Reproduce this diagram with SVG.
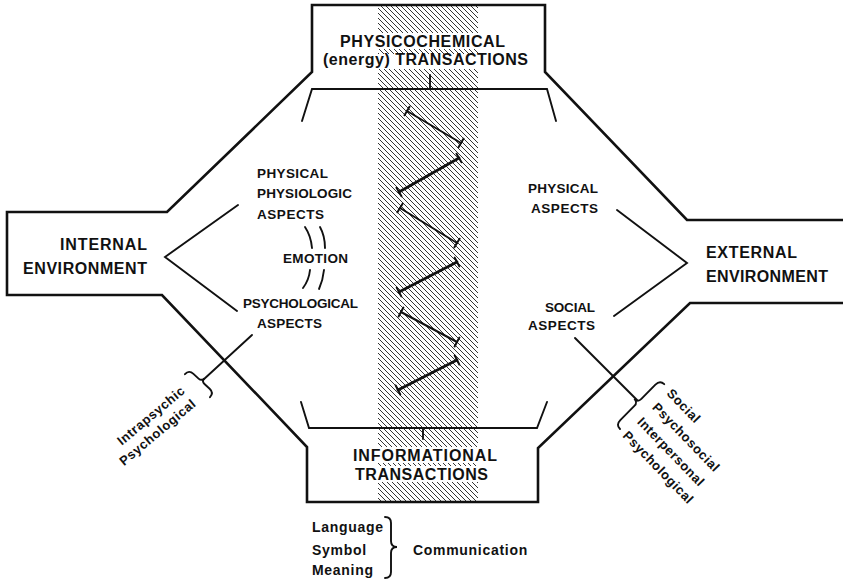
<svg xmlns="http://www.w3.org/2000/svg" width="843" height="582" viewBox="0 0 843 582">
  <defs>
    <!-- diagonal hatch for the central transaction band -->
    <pattern id="hatch" width="5" height="5" patternUnits="userSpaceOnUse">
      <path d="M-1,-1 L6,6 M-1,4 L1,6 M4,-1 L6,1" stroke="#111" stroke-width="0.85"/>
    </pattern>
    <style>
      .outline { fill: none; stroke: #111; stroke-width: 2.6; stroke-linejoin: miter; }
      .ln { fill: none; stroke: #111; stroke-width: 1.9; stroke-linecap: round; }
      .thin { fill: none; stroke: #111; stroke-width: 2; stroke-linecap: round; }
      .thick { fill: none; stroke: #111; stroke-width: 2.8; stroke-linecap: round; }
      .cap { stroke: #111; stroke-width: 2; stroke-linecap: round; }
      .lbl { font-family: "Liberation Sans", Arial, sans-serif; font-weight: bold; fill: #111; font-size: 13.5px; }
      .big { font-size: 16px; }
      .small { font-size: 14px; letter-spacing: 0.7px; }
      .rot { font-size: 13px; letter-spacing: 0.6px; }
    </style>
  </defs>

  <rect width="843" height="582" fill="#fff"/>

  <!-- hatched band with clear strips behind the transaction captions -->
  <rect x="378" y="5" width="100" height="497" fill="url(#hatch)"/>
  <rect x="378" y="33" width="100" height="16" fill="#fff"/>
  <rect x="378" y="54" width="100" height="15" fill="#fff"/>
  <rect x="378" y="447" width="100" height="16" fill="#fff"/>
  <rect x="378" y="466" width="100" height="16" fill="#fff"/>

  <!-- outer frame: top box, side boxes, bottom box -->
  <g id="frame">
    <path class="outline" d="M843,220 L687,220 L545,72 L545,5 L312,5 L312,72 L167,212 L7,212 L7,295 L162,295 L307,447 L307,502 L538,502 L538,448 L690,303 L843,303"/>
  </g>

  <g id="connectors">
    <!-- inner brackets under / above the transaction boxes -->
    <path class="ln" d="M302,121 L312,89 L547,89 L556,121"/>
    <path class="ln" d="M430,75 L430,89"/>
    <path class="ln" d="M301,402 L309,428 L537,428 L547,402"/>
    <path class="ln" d="M423,428 L423,439"/>
    <!-- internal environment fork -->
    <path class="ln" d="M238,205 L165,257 L237,311"/>
    <!-- external environment fork -->
    <path class="ln" d="M617,210 L687,263 L614,316"/>
    <!-- emotion links -->
    <path class="ln" d="M305,227 Q311,236 312,248"/>
    <path class="ln" d="M320,227 Q325,236 325,248"/>
    <path class="ln" d="M310,270 Q309,280 303,288"/>
    <path class="ln" d="M324,270 Q323,280 319,289"/>
    <!-- leaders to the bracketed lists -->
    <path class="ln" d="M252,335 L203,380"/>
    <path class="ln" d="M575,338 L637,400"/>
    <!-- braces -->
    <path class="ln" transform="translate(199.5,383.5) rotate(-47.4)" d="M-3,-17 Q3,-17 3,-11 L3,-4 Q3,0 7,0 Q3,0 3,4 L3,11 Q3,17 -3,17"/>
    <path class="ln" transform="translate(640,404.5) rotate(-135.4)" d="M-3,-31.5 Q3,-31.5 3,-25 L3,-5 Q3,0 8,0 Q3,0 3,5 L3,25 Q3,31.5 -3,31.5"/>
    <path class="ln" d="M385,517 Q391,517 391,523 L391,541 Q391,547 397,547 Q391,547 391,553 L391,572 Q391,578 385,578"/>
  </g>

  <!-- zigzag of capped segments inside the band -->
  <g id="zigzag">
    <path class="thin" d="M407,111 L461,143"/>
    <path class="cap" d="M409.5,106.7 L404.5,115.3 M463.5,138.7 L458.5,147.3"/>
    <path class="thick" d="M459,158 L399,192"/>
    <path class="cap" d="M456.5,153.7 L461.5,162.3 M396.5,187.7 L401.5,196.3"/>
    <path class="thin" d="M400,208 L457,243"/>
    <path class="cap" d="M397.4,212.3 L402.6,203.7 M454.4,247.3 L459.6,238.7"/>
    <path class="thick" d="M457,262 L399,292"/>
    <path class="cap" d="M454.7,257.6 L459.3,266.4 M396.7,287.6 L401.3,296.4"/>
    <path class="thin" d="M401,312 L457,342"/>
    <path class="cap" d="M398.6,316.4 L403.4,307.6 M454.6,346.4 L459.4,337.6"/>
    <path class="thick" d="M457,360 L398,390"/>
    <path class="cap" d="M454.7,355.5 L459.3,364.5 M395.7,385.5 L400.3,394.5"/>
  </g>

  <g id="physicochemical" class="lbl big">
    <text x="340" y="47" textLength="165" lengthAdjust="spacing">PHYSICOCHEMICAL</text>
    <text x="323" y="65" textLength="205" lengthAdjust="spacing">(energy) TRANSACTIONS</text>
  </g>

  <g id="informational" class="lbl big">
    <text x="353" y="461" textLength="144" lengthAdjust="spacing">INFORMATIONAL</text>
    <text x="355" y="480" textLength="133" lengthAdjust="spacing">TRANSACTIONS</text>
  </g>

  <g id="internal-environment" class="lbl big">
    <text x="60" y="250" textLength="87" lengthAdjust="spacing">INTERNAL</text>
    <text x="23" y="274" textLength="124" lengthAdjust="spacing">ENVIRONMENT</text>
  </g>

  <g id="external-environment" class="lbl big">
    <text x="706" y="258" textLength="91" lengthAdjust="spacing">EXTERNAL</text>
    <text x="706" y="282" textLength="122" lengthAdjust="spacing">ENVIRONMENT</text>
  </g>

  <g id="physical-physiologic" class="lbl">
    <text x="257" y="178" textLength="71" lengthAdjust="spacing">PHYSICAL</text>
    <text x="257" y="198" textLength="95" lengthAdjust="spacing">PHYSIOLOGIC</text>
    <text x="257" y="219" textLength="67" lengthAdjust="spacing">ASPECTS</text>
  </g>

  <g id="emotion" class="lbl">
    <text x="283" y="263" textLength="65" lengthAdjust="spacing">EMOTION</text>
  </g>

  <g id="psychological" class="lbl">
    <text x="243" y="308" textLength="115" lengthAdjust="spacing">PSYCHOLOGICAL</text>
    <text x="257" y="328" textLength="65" lengthAdjust="spacing">ASPECTS</text>
  </g>

  <g id="physical-aspects" class="lbl">
    <text x="528" y="193" textLength="70" lengthAdjust="spacing">PHYSICAL</text>
    <text x="531" y="213" textLength="67" lengthAdjust="spacing">ASPECTS</text>
  </g>

  <g id="social-aspects" class="lbl">
    <text x="545" y="312" textLength="50" lengthAdjust="spacing">SOCIAL</text>
    <text x="528" y="330" textLength="67" lengthAdjust="spacing">ASPECTS</text>
  </g>

  <g id="intrapsychic" class="lbl rot" transform="translate(186,392) rotate(-40)">
    <text x="0" y="0" text-anchor="end">Intrapsychic</text>
    <text x="0" y="17" text-anchor="end">Psychological</text>
  </g>

  <g id="social-list" class="lbl rot" transform="translate(666,394) rotate(46)">
    <text x="0" y="0">Social</text>
    <text x="0" y="20">Psychosocial</text>
    <text x="0" y="41">Interpersonal</text>
    <text x="0" y="61">Psychological</text>
  </g>

  <g id="communication" class="lbl small">
    <text x="312" y="532">Language</text>
    <text x="312" y="555">Symbol</text>
    <text x="312" y="575">Meaning</text>
    <text x="413" y="555">Communication</text>
  </g>
</svg>
